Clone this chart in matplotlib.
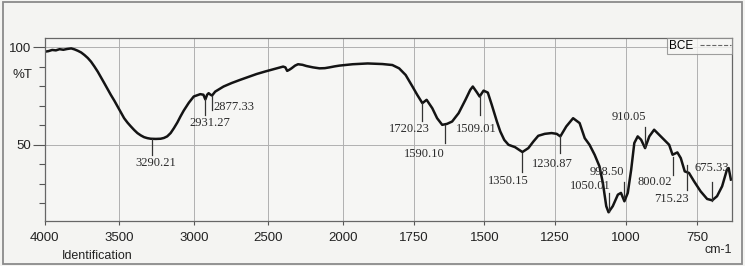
import numpy as np
import matplotlib
matplotlib.use("Agg")
import matplotlib.pyplot as plt
from matplotlib.lines import Line2D
from matplotlib.patches import Rectangle

# ---- data ----
wavenumber = [4000, 3975, 3950, 3925, 3900, 3875, 3850, 3822, 3800, 3778, 3755, 3733, 3711,
              3689, 3667, 3644, 3622, 3600, 3578, 3556, 3533, 3511, 3489, 3467, 3444,
              3422, 3400, 3378, 3355, 3333, 3311, 3289, 3255, 3222, 3200, 3178, 3155,
              3133, 3110, 3089, 3067, 3033, 3000, 2956, 2935, 2922, 2910, 2900, 2887,
              2877, 2856, 2800, 2745, 2689, 2630, 2578, 2520, 2467, 2430, 2400, 2385,
              2373, 2358, 2344, 2320, 2300, 2270, 2244, 2200, 2156, 2120, 2089, 2055,
              2022, 1965, 1912, 1860, 1825, 1801, 1778, 1754, 1737, 1719, 1704, 1684,
              1667, 1649, 1632, 1614, 1591, 1567, 1550, 1541, 1526, 1517, 1503, 1488,
              1474, 1456, 1444, 1430, 1415, 1392, 1366, 1345, 1327, 1310, 1287, 1263,
              1245, 1232, 1211, 1187, 1164, 1146, 1129, 1111, 1094, 1082, 1070, 1062,
              1047, 1029, 1018, 1006, 994, 982, 971, 959, 947, 933, 918, 901, 883, 866,
              848, 836, 819, 807, 793, 778, 760, 737, 714, 696, 679, 661, 644, 638, 630]
transmittance = [97.6, 97.9, 98.5, 98.3, 98.9, 98.6, 99.0, 99.3, 98.8, 98.1, 97.2, 95.9, 94.4,
                 92.5, 90.1, 87.4, 84.5, 81.5, 78.5, 75.5, 72.6, 69.6, 66.6, 63.6, 61.3,
                 59.4, 57.6, 56.0, 54.8, 53.9, 53.4, 53.1, 53.0, 53.1, 53.5, 54.3, 56.0,
                 58.5, 61.4, 64.5, 67.5, 71.5, 74.7, 75.9, 75.6, 73.2, 75.6, 76.4, 75.6,
                 75.2, 77.2, 79.8, 81.6, 83.2, 84.8, 86.2, 87.5, 88.6, 89.4, 90.0, 89.6,
                 87.8, 88.4, 89.1, 90.5, 91.2, 90.9, 90.3, 89.6, 89.1, 89.2, 89.6, 90.1,
                 90.5, 91.2, 91.6, 91.3, 90.8, 89.1, 85.7, 79.8, 75.5, 71.3, 73.0, 68.7,
                 63.6, 60.2, 60.7, 61.9, 66.2, 73.0, 78.1, 79.8, 76.7, 74.7, 77.7, 76.7,
                 70.4, 61.9, 56.8, 52.5, 50.0, 48.8, 46.3, 48.3, 51.7, 54.6, 55.6, 56.0,
                 55.6, 54.3, 59.4, 63.6, 61.1, 53.4, 50.0, 44.9, 39.0, 30.5, 18.6, 15.5,
                 18.6, 24.5, 25.4, 21.1, 25.4, 37.3, 50.9, 54.3, 52.6, 48.3, 54.3, 57.7,
                 55.1, 52.6, 50.0, 44.9, 46.1, 43.2, 36.4, 35.6, 31.3, 26.2, 22.3, 21.6,
                 23.7, 28.8, 37.3, 38.1, 32.2]

peak_labels = ["3290.21", "2931.27", "2877.33", "1720.23", "1590.10", "1509.01", "1350.15",
               "1230.87", "1050.01", "998.50", "910.05", "800.02", "715.23", "675.33"]
peak_pos = [3280, 2922, 2877, 1719, 1640, 1517, 1366, 1232, 1062, 1006, 933, 835, 786, 698]
line_top = [53.0, 73.5, 75.0, 71.5, 60.2, 74.7, 46.0, 54.6, 25.5, 31.2, 59.2, 43.9, 39.8, 31.2]
line_bot = [44.9, 65.3, 67.9, 62.3, 51.0, 65.3, 36.3, 46.0, 15.8, 23.0, 49.0, 34.7, 27.1, 21.5]
text_x = [3253, 2895, 2866, 1765, 1712, 1530, 1414, 1260, 1126, 1067, 989, 898, 839, 698]
text_y = [40.8, 61.2, 69.4, 58.2, 45.4, 58.2, 31.7, 40.3, 29.1, 36.3, 64.3, 31.2, 22.5, 38.3]
text_ha = ["center", "center", "left", "center", "center", "center", "center",
           "center", "center", "center", "center", "center", "center", "center"]

x_ticks = [4000, 3500, 3000, 2500, 2000, 1750, 1500, 1250, 1000, 750]
y_major = [100, 50]
y_minor = [20, 30, 40, 60, 70, 80, 90]
series_name = "BCE"

# ---- scale: wavenumbers above 2000 compressed ----
K = 0.526
def fwd(w):
    w = np.asarray(w, dtype=float)
    return np.where(w > 2000, 2000 + (w - 2000) * K, w)
def inv(v):
    v = np.asarray(v, dtype=float)
    return np.where(v > 2000, 2000 + (v - 2000) / K, v)

bg = "#f4f4f2"
fig = plt.figure(figsize=(7.45, 2.66), dpi=100, facecolor=bg)
ax = fig.add_axes([0.060, 0.169, 0.923, 0.688])
ax.set_facecolor("#f6f6f4")
ax.set_xscale("function", functions=(fwd, inv))
ax.set_xlim(4000, 625)
ax.set_ylim(11, 104.6)

ax.plot(wavenumber, transmittance, color="#141414", lw=1.8, solid_joinstyle="round")

for lab, px, t0, t1, tx, ty, ha in zip(peak_labels, peak_pos, line_top, line_bot,
                                        text_x, text_y, text_ha):
    ax.plot([px, px], [t0, t1], color="#333333", lw=0.9)
    ax.text(tx, ty, lab, ha=ha, va="center", fontsize=9,
            family="Liberation Serif", color="#2a2a2a")

ax.set_xticks(x_ticks)
ax.set_xticklabels([str(t) for t in x_ticks])
ax.set_yticks(y_major)
ax.set_yticklabels([str(t) for t in y_major])
ax.set_yticks(y_minor, minor=True)
ax.xaxis.set_minor_locator(matplotlib.ticker.NullLocator())
ax.tick_params(axis="x", length=3, width=0.8, color="#555555", labelsize=9.5,
               labelcolor="#222222", pad=5)
ax.tick_params(axis="y", which="major", length=9, width=0.8, color="#555555",
               labelsize=9.5, labelcolor="#222222", pad=1)
ax.tick_params(axis="y", which="minor", length=4, width=0.8, color="#555555")
for lab in ax.get_xticklabels() + ax.get_yticklabels():
    lab.set_family("Liberation Sans")

ax.grid(True, which="major", color="#b0b0b0", lw=0.7)
for s in ax.spines.values():
    s.set_color("#666666")
    s.set_linewidth(0.9)

leg = ax.legend(handles=[Line2D([], [], color="#666666", ls="--", lw=0.8)],
                labels=[series_name], loc="upper right", markerfirst=False,
                frameon=True, fancybox=False, borderaxespad=0.0,
                handlelength=2.6, borderpad=0.15, handletextpad=0.6,
                prop={"family": "Liberation Sans", "size": 8.5})
leg.get_frame().set_edgecolor("#888888")
leg.get_frame().set_linewidth(0.8)
leg.get_frame().set_facecolor("#f6f6f4")

fig.text(22 / 745, 1 - 75 / 266, "%T", ha="center", va="center", fontsize=9.5,
         family="Liberation Sans", color="#222222")
fig.text(97 / 745, 1 - 256 / 266, "Identification", ha="center", va="center",
         fontsize=9, family="Liberation Sans", color="#222222")
fig.text(718 / 745, 1 - 250 / 266, "cm-1", ha="center", va="center", fontsize=9,
         family="Liberation Sans", color="#222222")

fig.patches.append(Rectangle((0.004, 0.008), 0.992, 0.984, transform=fig.transFigure,
                             fill=False, edgecolor="#8a8a8a", lw=1.3))

fig.savefig("out.png", dpi=100, facecolor=bg)
